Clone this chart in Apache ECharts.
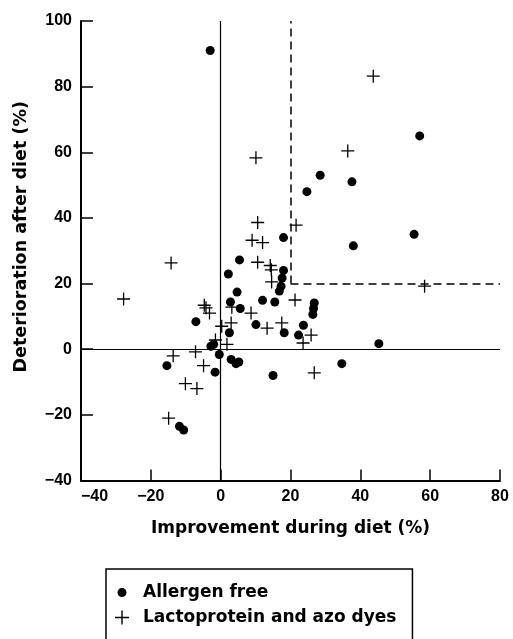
<!DOCTYPE html>
<html>
<head>
<meta charset="utf-8">
<script src="https://cdn.jsdelivr.net/npm/echarts@6/dist/echarts.min.js"></script>
<style>html,body{margin:0;padding:0;background:#fff;}#c{width:513px;height:639px;}</style>
</head>
<body>
<div id="c"></div>
<script>
// Allergen free (x = improvement %, y = deterioration %)
const allergenFree = [
  [-3,91],[57,65],[28.5,53],[24.7,48],[37.6,51],[18,34],[55.4,35],[38,31.5],
  [18,24],[17.6,21.7],[17.3,19.2],[16.8,17.7],[15.5,14.4],[12,14.9],[26.8,14.1],
  [26.6,12.4],[26.4,10.6],[23.7,7.3],[18.2,5],[22.3,4.3],[45.3,1.7],[34.7,-4.4],
  [15,-8],[5.4,27.2],[2.2,22.9],[4.7,17.4],[2.8,14.4],[5.6,12.4],[10.1,7.5],
  [-7.1,8.4],[2.5,5],[-2.8,0.9],[-2,1.5],[-0.4,-1.6],[3,-3.1],[4.4,-4.4],
  [5.2,-3.9],[-1.6,-7],[-15.4,-5],[-11.8,-23.5],[-10.6,-24.6]
];
// Lactoprotein and azo dyes
const lactoAzo = [
  [43.7,83.2],[36.4,60.4],[21.6,37.8],[10.1,58.3],[10.6,38.6],[9,33.2],[12,32.5],
  [10.6,26.5],[14.2,25.5],[14.5,24.2],[14.6,20.5],[-14.2,26.3],[-27.8,15.3],
  [-4.7,13.4],[-4.2,12.6],[-3.2,11],[3.2,12.8],[8.7,11],[3,8],[0.3,7],[13.3,6.4],
  [17.5,8],[-1.5,2.8],[1.8,1.5],[-7.2,-0.8],[-13.6,-2],[-4.9,-5],[-14.9,-21],
  [-10.1,-10.5],[-6.8,-12],[58.4,19.2],[21.3,15],[25.9,4.3],[23.6,1.9],[26.8,-7.2]
];
const seriesNames = ['Allergen free', 'Lactoprotein and azo dyes'];
const xRange = [-40, 80];
const yRange = [-40, 100];
const tickStep = 20;
const zeroLines = [ [[0,-40],[0,100]], [[-40,0],[80,0]] ];
const dashedLines = [ [[20,20],[20,100]], [[20,20],[80,20]] ];
const axisTitles = { x: 'Improvement during diet (%)', y: 'Deterioration after diet (%)' };

const crossPath = 'path://M0,6.3H14V7.7H0Z M6.3,0H7.7V14H6.3Z';
const dotIcon = 'path://M0,0h0.01v0.01h-0.01z M14,14h-0.01v-0.01h0.01z M11.5,7 C11.5,9.485 9.485,11.5 7,11.5 C4.515,11.5 2.5,9.485 2.5,7 C2.5,4.515 4.515,2.5 7,2.5 C9.485,2.5 11.5,4.515 11.5,7 Z';

const tickFont = { fontFamily: 'Liberation Sans', fontWeight: 'bold', fontSize: 16, color: '#000' };
const textFont = { fontFamily: 'DejaVu Sans', fontWeight: 'bold', fontSize: 17, color: '#000' };
const fmt = v => (v < 0 ? '\u2212' + Math.abs(v) : String(v));

const chart = echarts.init(document.getElementById('c'), null, { renderer: 'canvas' });
chart.setOption({
  backgroundColor: '#fff',
  animation: false,
  grid: { left: 81, right: 13, top: 21, bottom: 158.5 },
  xAxis: {
    type: 'value', min: xRange[0], max: xRange[1], interval: tickStep,
    name: axisTitles.x, nameLocation: 'middle', nameGap: 40,
    nameTextStyle: textFont,
    axisLine: { onZero: false, lineStyle: { color: '#000', width: 2 } },
    axisTick: { inside: true, length: 11, lineStyle: { color: '#000', width: 1.5 } },
    axisLabel: Object.assign({ formatter: fmt, margin: 8, alignMinLabel: 'left' }, tickFont),
    splitLine: { show: false }
  },
  yAxis: {
    type: 'value', min: yRange[0], max: yRange[1], interval: tickStep,
    name: axisTitles.y, nameLocation: 'middle', nameGap: 51,
    nameTextStyle: Object.assign({ padding: [0, 0, 0, 28] }, textFont, { fontSize: 17.5 }),
    axisLine: { onZero: false, lineStyle: { color: '#000', width: 2 } },
    axisTick: { inside: true, length: 12, lineStyle: { color: '#000', width: 1.5 } },
    axisLabel: Object.assign({ formatter: fmt, margin: 9 }, tickFont),
    splitLine: { show: false }
  },
  legend: {
    orient: 'vertical', left: 106, top: 569, height: 120,
    padding: [15, 16, 20, 9], itemGap: 8, itemWidth: 14, itemHeight: 14,
    borderColor: '#000', borderWidth: 1.5,
    textStyle: Object.assign({ padding: [0, 0, 0, 9] }, textFont),
    data: [ { name: seriesNames[0], icon: dotIcon }, { name: seriesNames[1], icon: crossPath } ]
  },
  series: [
    {
      name: seriesNames[0], type: 'scatter', data: allergenFree,
      symbol: 'circle', symbolSize: 9, itemStyle: { color: '#000', opacity: 1 },
      z: 3,
      markLine: {
        silent: true, symbol: 'none', label: { show: false },
        lineStyle: { color: '#000', width: 1.2, type: 'solid' },
        data: zeroLines.map(l => [{ coord: l[0] }, { coord: l[1] }])
          .concat(dashedLines.map(l => [{ coord: l[0], lineStyle: { type: [8, 5], width: 1.5 } }, { coord: l[1] }]))
      }
    },
    {
      name: seriesNames[1], type: 'scatter', data: lactoAzo,
      symbol: crossPath, symbolSize: 13, itemStyle: { color: '#000', opacity: 1 },
      z: 4
    }
  ]
});
</script>
</body>
</html>
